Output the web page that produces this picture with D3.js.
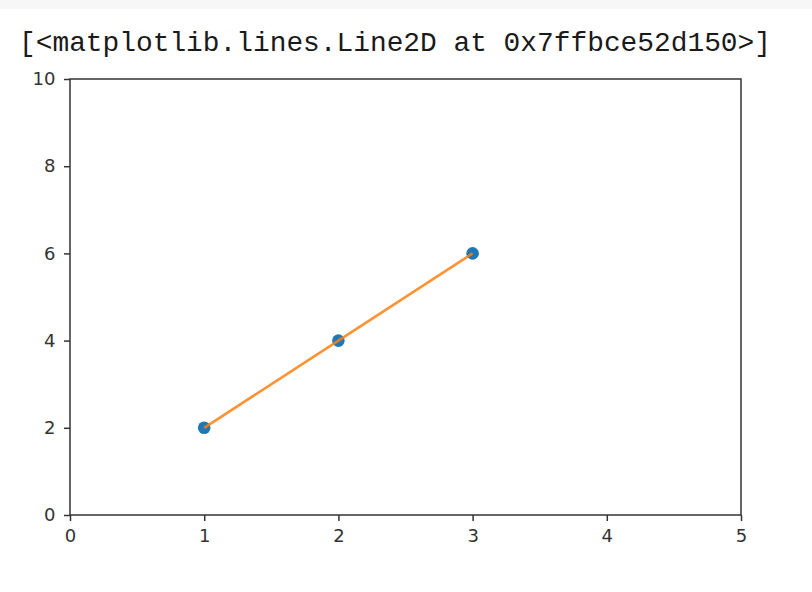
<!DOCTYPE html>
<html><head><meta charset="utf-8">
<script src="https://cdn.jsdelivr.net/npm/d3@7"></script>
<style>body{margin:0;background:#fff}</style>
</head><body>
<svg id="c" width="812" height="592"></svg>
<script>
const xValues = [1, 2, 3];
const yValues = [2, 4, 6];
const xTicks = [0, 1, 2, 3, 4, 5];
const yTicks = [0, 2, 4, 6, 8, 10];
const outText = "[<matplotlib.lines.Line2D at 0x7ffbce52d150>]";

const svg = d3.select("#c");
svg.append("rect").attr("x",0).attr("y",0).attr("width",812).attr("height",9).attr("fill","#f7f7f7");
svg.append("text").attr("x",19).attr("y",51)
  .attr("font-family","Liberation Mono").attr("font-size",27.5).attr("fill","#1a1a1a")
  .attr("textLength",752).attr("lengthAdjust","spacingAndGlyphs")
  .text(outText);

const L=70,R=741,T=79,B=515;
const x = d3.scaleLinear().domain([0,5]).range([L,R]);
const y = d3.scaleLinear().domain([0,10]).range([B,T]);

const ax = svg.append("g").attr("transform",`translate(0,${B})`)
  .call(d3.axisBottom(x).tickValues(xTicks).tickFormat(d3.format("d")).tickSizeInner(6).tickSizeOuter(0).tickPadding(8.5));
const ay = svg.append("g").attr("transform",`translate(${L},0)`)
  .call(d3.axisLeft(y).tickValues(yTicks).tickFormat(d3.format("d")).tickSizeInner(6).tickSizeOuter(0).tickPadding(8.5));
[ax,ay].forEach(g=>{
  g.select(".domain").remove();
  g.selectAll("line").attr("stroke","#333").attr("stroke-width",1.5);
  g.selectAll("text").attr("font-family","DejaVu Sans").attr("font-size",18).attr("fill","#333");
});
svg.append("rect").attr("x",L).attr("y",T).attr("width",R-L).attr("height",B-T)
  .attr("fill","none").attr("stroke","#333").attr("stroke-width",1.5);

const pts = xValues.map((v,i)=>[v,yValues[i]]);
svg.append("g").selectAll("circle").data(pts).join("circle")
  .attr("cx",d=>x(d[0])).attr("cy",d=>y(d[1])).attr("r",6.3).attr("fill","#1f77b4");
svg.append("path").datum(pts)
  .attr("d",d3.line().x(d=>x(d[0])).y(d=>y(d[1])))
  .attr("fill","none").attr("stroke","#ff7f0e").attr("stroke-width",2.6).attr("stroke-opacity",0.85);
</script>
</body></html>
